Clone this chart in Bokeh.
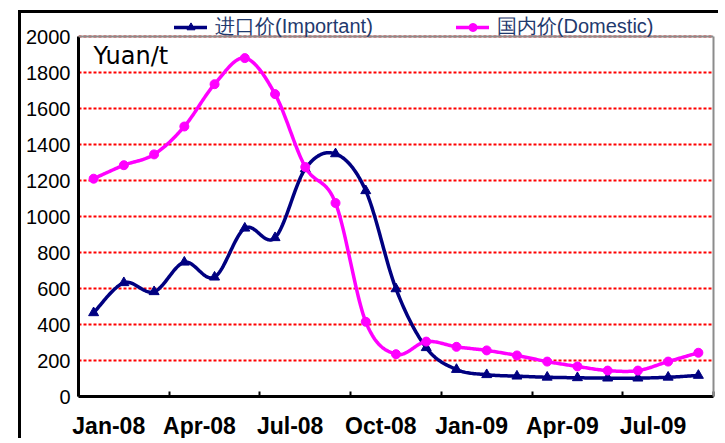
import numpy as np
from bokeh.plotting import figure
from bokeh.models import FixedTicker, Legend, LegendItem, Label, Range1d, Span, LinearAxis
from bokeh.embed import file_html
from bokeh.resources import INLINE

# ---- data ----
months = ["Jan-08", "Feb-08", "Mar-08", "Apr-08", "May-08", "Jun-08", "Jul-08",
          "Aug-08", "Sep-08", "Oct-08", "Nov-08", "Dec-08", "Jan-09", "Feb-09",
          "Mar-09", "Apr-09", "May-09", "Jun-09", "Jul-09", "Aug-09", "Sep-09"]
import_price = [465, 632, 582, 746, 663, 935, 882, 1265, 1348, 1143, 598,
                271, 150, 121, 113, 107, 104, 102, 102, 107, 117]
domestic_price = [1210, 1285, 1345, 1500, 1735, 1880, 1680, 1275, 1075, 415, 235,
                  305, 276, 256, 228, 194, 167, 144, 144, 194, 243]
tick_labels = ["Jan-08", "Apr-08", "Jul-08", "Oct-08", "Jan-09", "Apr-09", "Jul-09"]
y_ticks = [0, 200, 400, 600, 800, 1000, 1200, 1400, 1600, 1800, 2000]
series_names = ["进口价(Important)", "国内价(Domestic)"]
unit_text = "Yuan/t"

x = np.arange(len(months), dtype=float)


def smooth(xs, ys, n=24):
    """Bezier smoothing through the points (like a spreadsheet 'smoothed line')."""
    P = np.column_stack([xs, ys]).astype(float)
    out = [P[0]]
    t = np.linspace(0, 1, n + 1)[1:, None]
    for i in range(len(P) - 1):
        pa = P[i - 1] if i > 0 else P[i]
        pd = P[i + 2] if i + 2 < len(P) else P[i + 1]
        c1 = P[i] + (P[i + 1] - pa) / 6.0
        c2 = P[i + 1] - (pd - P[i]) / 6.0
        seg = ((1 - t) ** 3) * P[i] + 3 * ((1 - t) ** 2) * t * c1 + 3 * (1 - t) * (t ** 2) * c2 + (t ** 3) * P[i + 1]
        out.extend(seg)
    out = np.array(out)
    return out[:, 0].tolist(), out[:, 1].tolist()


# ---- layout (pixels) ----
W, H = 700, 428
BL, BT, BR, BB = 57, 0, 8, 45
PLOT_PX = 360            # pixel height of the 0..2000 plot area
FRAME_PX = H - BT - BB   # frame also holds the legend strip above the plot area
y_lo, y_hi = y_ticks[0], y_ticks[-1]
y_top = y_lo + (y_hi - y_lo) * FRAME_PX / PLOT_PX
x_lo, x_hi = -0.5, len(months) - 0.5

p = figure(width=W, height=H,
           x_range=Range1d(x_lo, x_hi), y_range=Range1d(y_lo, y_top),
           output_backend="svg", toolbar_location=None,
           min_border_left=BL, min_border_right=BR, min_border_top=BT, min_border_bottom=BB)
# outer chart-area frame (its right and bottom edges run off the page)
p.styles = {"margin-left": "18px", "margin-top": "10px",
            "border-left": "3px solid black", "border-top": "3px solid black"}

p.outline_line_color = None
p.background_fill_color = "white"
p.border_fill_color = "white"

# grid
p.xgrid.visible = False
p.ygrid.ticker = FixedTicker(ticks=y_ticks)
p.ygrid.grid_line_color = "#ff0000"
p.ygrid.grid_line_width = 2
p.ygrid.grid_line_dash = "3 2"

# x axis: labels centred in the slot, tick marks on slot boundaries every 3 months
label_pos = [months.index(l) + 0.5 for l in tick_labels]
bounds = [months.index(l) - 0.5 for l in tick_labels] + [x_hi]
xa = p.xaxis[0]
xa.ticker = FixedTicker(ticks=label_pos, minor_ticks=bounds)
xa.major_label_overrides = {v: l for v, l in zip(label_pos, tick_labels)}
xa.major_tick_in = 0
xa.major_tick_out = 0
xa.minor_tick_in = 5
xa.minor_tick_out = 0
xa.minor_tick_line_width = 2
xa.minor_tick_line_color = "black"
xa.axis_line_width = 3
xa.axis_line_color = "black"
xa.major_label_text_font = "Liberation Sans"
xa.major_label_text_font_size = "23px"
xa.major_label_text_font_style = "bold"
xa.major_label_text_color = "black"
xa.major_label_standoff = 16

ya = p.yaxis[0]
ya.ticker = FixedTicker(ticks=y_ticks)
ya.bounds = (y_lo, y_hi)
ya.major_tick_in = 0
ya.major_tick_out = 0
ya.minor_tick_in = 0
ya.minor_tick_out = 0
ya.axis_line_width = 3
ya.axis_line_color = "black"
ya.major_label_text_font = "Liberation Sans"
ya.major_label_text_font_size = "20px"
ya.major_label_text_color = "black"
ya.major_label_standoff = 8

# grey plot-area border: right edge and top edge
right_edge = LinearAxis(ticker=FixedTicker(ticks=[]), bounds=(y_lo, y_hi),
                        axis_line_color="#8c8c8c", axis_line_width=2,
                        major_tick_in=0, major_tick_out=0, minor_tick_in=0, minor_tick_out=0,
                        major_label_text_alpha=0)
p.add_layout(right_edge, "right")
p.add_layout(Span(location=y_hi, dimension="width", line_color="#8c8c8c", line_width=2))

navy = "#000080"
magenta = "#ff00ff"

sx, sy = smooth(x, import_price)
l1 = p.line(sx, sy, line_color=navy, line_width=3.5, line_join="round", line_cap="round")
m1 = p.scatter(x, import_price, marker="triangle", size=10, fill_color=navy, line_color=navy)

dx, dy = smooth(x, domestic_price)
l2 = p.line(dx, dy, line_color=magenta, line_width=3.5, line_join="round", line_cap="round")
m2 = p.scatter(x, domestic_price, marker="circle", size=9, fill_color=magenta, line_color=magenta)

p.add_layout(Label(x=0, y=1890, text=unit_text, text_font="DejaVu Sans",
                   text_font_size="24px", text_color="black", text_baseline="alphabetic"))

legend = Legend(items=[LegendItem(label=series_names[0], renderers=[l1, m1]),
                       LegendItem(label=series_names[1], renderers=[l2, m2])],
                orientation="horizontal", location=(96, PLOT_PX - 4),
                label_text_font="Liberation Sans",
                label_text_font_size="20px", label_text_color="#1f3a6e",
                glyph_width=33, glyph_height=20, label_height=20, label_standoff=8,
                spacing=83, padding=0, margin=0,
                border_line_color=None, background_fill_alpha=0)
p.add_layout(legend)

open("out.html", "w").write(file_html(p, INLINE))
